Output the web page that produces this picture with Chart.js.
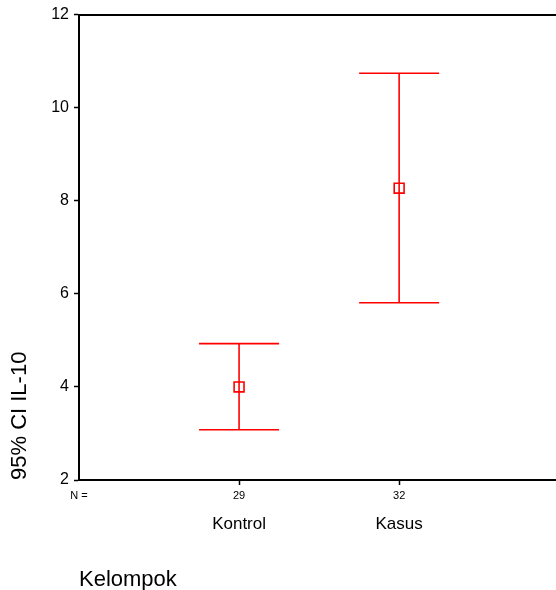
<!DOCTYPE html>
<html>
<head>
<meta charset="utf-8">
<script src="https://cdn.jsdelivr.net/npm/chart.js@4.4.0/dist/chart.umd.min.js"></script>
<style>
  html, body { margin: 0; padding: 0; background: #fff; overflow: hidden; }
  canvas { display: block; }
</style>
</head>
<body>
<canvas id="ciChart" width="556" height="590"></canvas>
<script>
// values
const groups = ["Kontrol", "Kasus"];
const nValues = [29, 32];
const means = [4.0, 8.27];
const lowerCI = [3.08, 5.81];
const upperCI = [4.93, 10.74];
const yTicks = [2, 4, 6, 8, 10, 12];

const RED = "#ff0000";
const FONT = "'Liberation Sans', Arial, sans-serif";
const capHalf = 0.25;   // half width of the whisker caps, in x units
const xMax = 2.98;

const datasets = [];
groups.forEach((g, i) => {
  const x = i + 1;
  const line = pts => ({
    type: "line",
    data: pts,
    borderColor: RED,
    borderWidth: 1.6,
    pointRadius: 0,
    fill: false,
    tension: 0
  });
  datasets.push(line([{ x: x, y: lowerCI[i] }, { x: x, y: upperCI[i] }]));
  datasets.push(line([{ x: x - capHalf, y: upperCI[i] }, { x: x + capHalf, y: upperCI[i] }]));
  datasets.push(line([{ x: x - capHalf, y: lowerCI[i] }, { x: x + capHalf, y: lowerCI[i] }]));
  datasets.push({
    type: "scatter",
    data: [{ x: x, y: means[i] }],
    pointStyle: "rect",
    pointRadius: 7,
    pointBorderWidth: 1.6,
    pointBorderColor: RED,
    pointBackgroundColor: "rgba(0,0,0,0)"
  });
});

const fixedTicks = values => scale => {
  scale.ticks = values.map(v => ({ value: v }));
};
// keep the x axes from reserving side room for their labels
const fixHeight = h => s => {
  s.height = h;
  s.paddingLeft = 0;
  s.paddingRight = 0;
};

new Chart(document.getElementById("ciChart").getContext("2d"), {
  type: "scatter",
  data: { datasets: datasets },
  options: {
    responsive: false,
    animation: false,
    layout: { autoPadding: false, padding: { top: 13, right: 0, left: 0, bottom: 0 } },
    plugins: { legend: { display: false }, tooltip: { enabled: false } },
    scales: {
      y: {
        type: "linear",
        min: 2,
        max: 12,
        afterBuildTicks: fixedTicks(yTicks),
        afterFit: s => { s.width = 79; },
        border: { display: true, color: "#000", width: 2 },
        grid: { drawOnChartArea: false, drawTicks: true, tickLength: 5, tickColor: "#000", tickWidth: 1.5 },
        ticks: { color: "#000", padding: 5, font: { family: FONT, size: 16 } },
        title: {
          display: true,
          text: "95% CI IL-10",
          align: "start",
          color: "#000",
          font: { family: FONT, size: 22 },
          padding: { top: 7, bottom: 0 }
        }
      },
      x: {
        type: "linear",
        position: "bottom",
        weight: 0,
        min: 0,
        max: xMax,
        afterBuildTicks: fixedTicks([0, 1, 2]),
        afterFit: fixHeight(26),
        border: { display: true, color: "#000", width: 2 },
        grid: {
          drawOnChartArea: false,
          drawTicks: true,
          tickLength: 5,
          tickWidth: 1.5,
          tickColor: c => (c.tick && c.tick.value === 0 ? "rgba(0,0,0,0)" : "#000")
        },
        ticks: {
          color: "#000",
          padding: 4,
          maxRotation: 0,
          font: { family: FONT, size: 11 },
          callback: v => (v === 0 ? "N =" : String(nValues[v - 1]))
        }
      },
      xGroup: {
        type: "linear",
        position: "bottom",
        weight: 1,
        min: 0,
        max: xMax,
        afterBuildTicks: fixedTicks([1, 2]),
        afterFit: fixHeight(84),
        border: { display: false },
        grid: { display: false, drawTicks: false },
        ticks: {
          color: "#000",
          padding: 8,
          maxRotation: 0,
          font: { family: FONT, size: 17 },
          callback: v => groups[v - 1]
        },
        title: {
          display: true,
          text: "Kelompok",
          align: "start",
          color: "#000",
          font: { family: FONT, size: 22 },
          padding: { top: 0, bottom: -3 }
        }
      },
      xTop: {
        type: "linear",
        position: "top",
        min: 0,
        max: xMax,
        afterFit: fixHeight(0),
        border: { display: true, color: "#000", width: 2 },
        grid: { drawOnChartArea: false, drawTicks: false },
        ticks: { display: false }
      }
    }
  }
});
</script>
</body>
</html>
